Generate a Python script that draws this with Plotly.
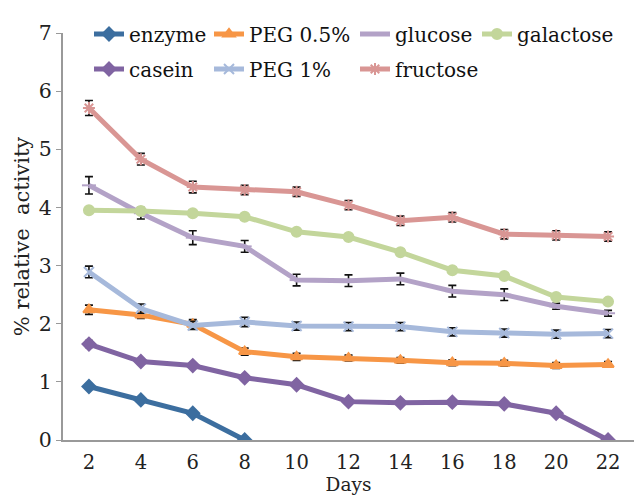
import plotly.graph_objects as go

days = [2, 4, 6, 8, 10, 12, 14, 16, 18, 20, 22]

enzyme = [0.92, 0.69, 0.46, 0.0]
peg05 = [2.24, 2.15, 1.99, 1.52, 1.43, 1.41, 1.37, 1.33, 1.32, 1.28, 1.30]
glucose = [4.38, 3.90, 3.48, 3.33, 2.75, 2.74, 2.77, 2.56, 2.50, 2.30, 2.18]
galactose = [3.95, 3.94, 3.90, 3.84, 3.58, 3.49, 3.23, 2.92, 2.82, 2.46, 2.38]
casein = [1.65, 1.35, 1.28, 1.07, 0.95, 0.66, 0.64, 0.65, 0.62, 0.46, 0.0]
peg1 = [2.89, 2.26, 1.97, 2.03, 1.96, 1.95, 1.95, 1.86, 1.84, 1.82, 1.83]
fructose = [5.71, 4.83, 4.35, 4.30, 4.27, 4.04, 3.77, 3.83, 3.54, 3.52, 3.50]

err_enzyme = [0, 0, 0, 0]
err_peg05 = [0.08, 0.06, 0.08, 0.06, 0.06, 0.05, 0.05, 0.05, 0.05, 0.05, 0.05]
err_glucose = [0.15, 0.1, 0.12, 0.1, 0.1, 0.1, 0.1, 0.1, 0.1, 0.05, 0.05]
err_galactose = [0.05, 0.05, 0.05, 0.05, 0.05, 0.05, 0.05, 0.05, 0.05, 0.05, 0.05]
err_casein = [0.06, 0.03, 0.03, 0.03, 0.03, 0.03, 0.03, 0.03, 0.03, 0.03, 0.0]
err_peg1 = [0.1, 0.08, 0.07, 0.08, 0.07, 0.07, 0.07, 0.07, 0.07, 0.07, 0.07]
err_fructose = [0.13, 0.1, 0.1, 0.08, 0.08, 0.08, 0.08, 0.08, 0.08, 0.08, 0.08]

series = [
    ("enzyme", enzyme, err_enzyme, "#3C6E9F", "diamond"),
    ("PEG 0.5%", peg05, err_peg05, "#F79646", "triangle-up"),
    ("glucose", glucose, err_glucose, "#B3A2C7", "line-ew"),
    ("galactose", galactose, err_galactose, "#C3D69B", "circle"),
    ("casein", casein, err_casein, "#8064A2", "diamond"),
    ("PEG 1%", peg1, err_peg1, "#A6B9DB", "x-thin"),
    ("fructose", fructose, err_fructose, "#D99694", "asterisk"),
]

# legend slot for each series: (column left px, row centre px)
legend_cols = [97, 217, 363, 485]
legend_rows = [34, 69]
slots = [(0, 0), (1, 0), (2, 0), (3, 0), (0, 1), (1, 1), (2, 1)]

FONT = "DejaVu Serif"
L, R, T, B = 63, 0, 33, 57
W, H = 634, 497
pw, ph = W - L - R, H - T - B

fig = go.Figure()
layout_legends = {}
for i, (name, vals, errs, color, sym) in enumerate(series):
    lname = "legend" if i == 0 else f"legend{i + 1}"
    fig.add_trace(go.Scatter(
        x=days[:len(vals)], y=vals, name=name, mode="lines+markers",
        legend=lname,
        line=dict(color=color, width=5),
        marker=dict(color=color, size=10, symbol=sym,
                    line=dict(color=color, width=2)),
        error_y=dict(type="data", array=errs, visible=True,
                     color="#111111", thickness=1.6, width=4),
    ))
    c, r = slots[i]
    xpx = legend_cols[c] - 8
    ypx = legend_rows[r]
    layout_legends[lname] = dict(
        x=(xpx - L) / pw, y=1 - (ypx - T) / ph,
        xanchor="left", yanchor="middle", orientation="h",
        font=dict(family=FONT, size=20, color="#111111"),
        bgcolor="rgba(0,0,0,0)", itemwidth=30,
    )

fig.update_layout(
    width=W, height=H,
    margin=dict(l=L, r=R, t=T, b=B),
    plot_bgcolor="white", paper_bgcolor="white",
    font=dict(family=FONT, color="#222222", size=20),
    showlegend=True,
    xaxis=dict(range=[1, 23], tickvals=days, showgrid=False, zeroline=False,
               showline=True, linecolor="#999999", linewidth=2,
               ticks="", tickfont=dict(family=FONT, size=19.5, color="#222222"),
               ticklabelstandoff=4,
               title=dict(text="Days", font=dict(family=FONT, size=18.5, color="#222222"), standoff=2)),
    yaxis=dict(range=[0, 7], dtick=1, showgrid=False, zeroline=False,
               showline=True, linecolor="#999999", linewidth=2,
               ticks="outside", ticklen=5, tickcolor="#999999",
               tickfont=dict(family=FONT, size=20.5, color="#222222"),
               title=dict(text="% relative  activity", font=dict(family=FONT, size=21, color="#222222"), standoff=4)),
    **layout_legends,
)

fig.write_html("out.html")
